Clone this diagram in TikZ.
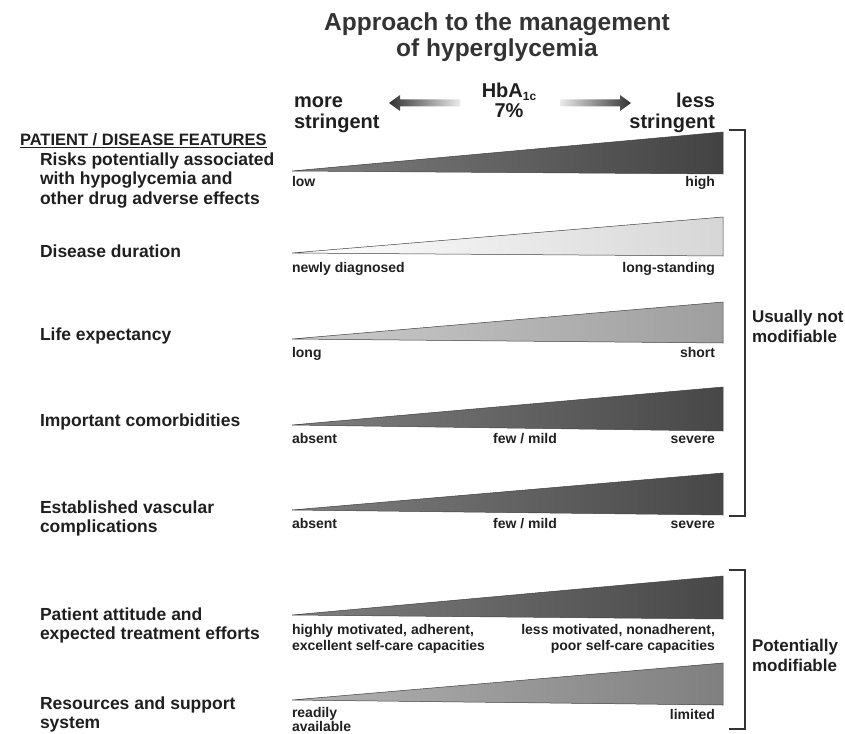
\documentclass[tikz,border=0pt]{standalone}
\usepackage{fontspec}
\setmainfont{Liberation Sans}
\definecolor{ink}{gray}{0.12}
\definecolor{titleink}{gray}{0.2}
\newcommand{\mlL}[1]{\begin{tabular}[t]{@{}l@{}}#1\end{tabular}}
\newcommand{\mlR}[1]{\begin{tabular}[t]{@{}r@{}}#1\end{tabular}}
\newcommand{\mlC}[1]{\begin{tabular}[t]{@{}c@{}}#1\end{tabular}}
\begin{document}
\begin{tikzpicture}[x=1pt,y=-1pt,
  every node/.style={inner sep=0pt, outer sep=0pt, text=ink},
  titletxt/.style={font=\fontsize{24.5}{26}\selectfont\bfseries, text=titleink, anchor=base},
  headtxt/.style={font=\fontsize{20}{19.5}\selectfont\bfseries},
  feat/.style={font=\fontsize{17.5}{19.5}\selectfont\bfseries, anchor=base west},
  sidetxt/.style={font=\fontsize{17}{20.5}\selectfont\bfseries, anchor=base west},
  ticktxt/.style={font=\fontsize{14}{16}\selectfont\bfseries},
  wedge/.style={draw=black!75, line width=0.5pt},
  brk/.style={draw=black!80, line width=1.3pt},
  hdarrow/.style={draw=none}]
\useasboundingbox (0,0) rectangle (845,733);

% title
\node[titletxt] (title) at (497,31) {\mlC{Approach to the management\\of hyperglycemia}};

% header
\node[headtxt, anchor=base west] (more) at (294,108) {\mlL{more\\stringent}};
\node[headtxt, anchor=base east] (less) at (715,108) {\mlR{less\\stringent}};
\node[headtxt, anchor=base] (hba) at (509,98) {\mlC{HbA\raisebox{-2.5pt}{\fontsize{12}{12}\selectfont 1c}\\7\%}};
\path[hdarrow, left color=black!80, right color=black!8]
  (389,103) -- (400,95) -- (400,99.5) -- (460,99.5) -- (460,106.5) -- (400,106.5) -- (400,111) -- cycle;
\path[hdarrow, left color=black!8, right color=black!80]
  (631,103) -- (620,95) -- (620,99.5) -- (560,99.5) -- (560,106.5) -- (620,106.5) -- (620,111) -- cycle;

% left column
\node[font=\fontsize{16.5}{18}\selectfont\bfseries, anchor=base west] (feathead) at (20,145) {\underline{PATIENT / DISEASE FEATURES}};
\node[feat] (risks) at (40,165) {\mlL{Risks potentially associated\\with hypoglycemia and\\other drug adverse effects}};
\node[feat] (dur) at (40,257) {Disease duration};
\node[feat] (life) at (40,340) {Life expectancy};
\node[feat] (comor) at (40,426) {Important comorbidities};
\node[feat] (vasc) at (40,513) {\mlL{Established vascular\\complications}};
\node[feat] (att) at (40,620) {\mlL{Patient attitude and\\expected treatment efforts}};
\node[feat] (res) at (40,709) {\mlL{Resources and support\\system}};

% wedges
\path[wedge, left color=black!50, right color=black!74] (292,171) -- (723,132) -- (723,174) -- cycle;
\path[wedge, left color=white, right color=black!16] (292,253) -- (723,217) -- (723,256) -- cycle;
\path[wedge, left color=black!20, right color=black!38] (292,339) -- (723,302) -- (723,343) -- cycle;
\path[wedge, left color=black!50, right color=black!72] (292,425) -- (723,387) -- (723,431) -- cycle;
\path[wedge, left color=black!50, right color=black!72] (292,510) -- (723,473) -- (723,515) -- cycle;
\path[wedge, left color=black!50, right color=black!72] (292,615) -- (723,576) -- (723,619) -- cycle;
\path[wedge, left color=black!30, right color=black!50] (292,700) -- (723,663) -- (723,705) -- cycle;

% wedge labels
\node[ticktxt, anchor=base west] (low) at (292,186) {low};
\node[ticktxt, anchor=base east] (high) at (715,186) {high};
\node[ticktxt, anchor=base west] (newly) at (292,272) {newly diagnosed};
\node[ticktxt, anchor=base east] (longst) at (715,272) {long-standing};
\node[ticktxt, anchor=base west] (long) at (292,357) {long};
\node[ticktxt, anchor=base east] (short) at (715,357) {short};
\node[ticktxt, anchor=base west] (abs1) at (292,443) {absent};
\node[ticktxt, anchor=base] (few1) at (525,443) {few / mild};
\node[ticktxt, anchor=base east] (sev1) at (715,443) {severe};
\node[ticktxt, anchor=base west] (abs2) at (292,528) {absent};
\node[ticktxt, anchor=base] (few2) at (525,528) {few / mild};
\node[ticktxt, anchor=base east] (sev2) at (715,528) {severe};
\node[ticktxt, anchor=base west] (motiv) at (292,634) {\mlL{highly motivated, adherent,\\excellent self-care capacities}};
\node[ticktxt, anchor=base east] (nonad) at (715,634) {\mlR{less motivated, nonadherent,\\poor self-care capacities}};
\node[ticktxt, anchor=base west, font=\fontsize{14}{14}\selectfont\bfseries] (ready) at (292,717) {\mlL{readily\\available}};
\node[ticktxt, anchor=base east] (limited) at (715,719) {limited};

% brackets
\draw[brk] (729,130) -- (745,130) -- (745,516) -- (729,516);
\draw[brk] (729,570) -- (745,570) -- (745,729) -- (729,729);
\node[sidetxt] (unmod) at (752,322) {\mlL{Usually not\\modifiable}};
\node[sidetxt] (potmod) at (752,651) {\mlL{Potentially\\modifiable}};
\end{tikzpicture}
\end{document}
